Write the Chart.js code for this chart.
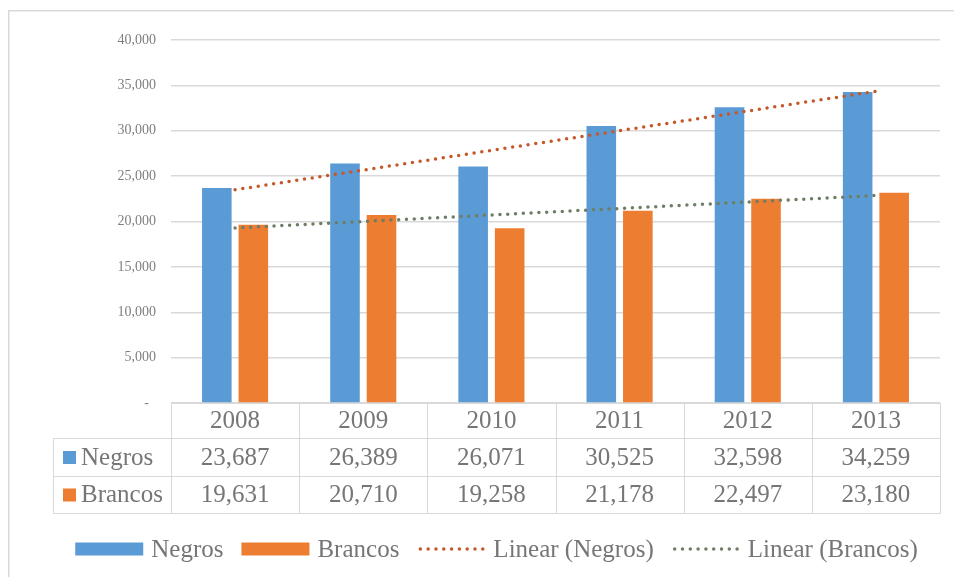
<!DOCTYPE html>
<html>
<head>
<meta charset="utf-8">
<script src="https://cdn.jsdelivr.net/npm/chart.js@4"></script>
<style>
  html, body { margin: 0; padding: 0; background: #ffffff; }
  #wrap { position: relative; width: 954px; height: 577px; }
</style>
</head>
<body>
<div id="wrap"><canvas id="c" width="954" height="577"></canvas></div>
<script>
// ---- data ----
const categories = ['2008', '2009', '2010', '2011', '2012', '2013'];
const negros = [23687, 26389, 26071, 30525, 32598, 34259];
const brancos = [19631, 20710, 19258, 21178, 22497, 23180];
const seriesNames = ['Negros', 'Brancos'];
const trendNames = ['Linear (Negros)', 'Linear (Brancos)'];
const yMin = 0, yMax = 40000, yStep = 5000;

// least-squares linear trend of a series (as Excel's "Linear" trendline)
function linearTrend(values) {
  const n = values.length;
  const xs = values.map((_, i) => i + 1);
  const mx = xs.reduce((a, b) => a + b, 0) / n;
  const my = values.reduce((a, b) => a + b, 0) / n;
  let sxy = 0, sxx = 0;
  for (let i = 0; i < n; i++) { sxy += (xs[i] - mx) * (values[i] - my); sxx += (xs[i] - mx) ** 2; }
  const slope = sxy / sxx, icpt = my - slope * mx;
  return xs.map(x => icpt + slope * x);
}

const FONT = '"Liberation Serif", "Times New Roman", serif';
const fmt = v => v.toLocaleString('en-US');
const BLUE = '#5b9bd5', ORANGE = '#ed7d31', RED = '#c4582a', GREEN = '#6e7d63';
const GRID = '#d9d9d9';

const tablePlugin = {
  id: 'tableAndLegend',
  beforeDraw(chart) {
    const ctx = chart.ctx;
    ctx.save();
    ctx.strokeStyle = GRID;
    ctx.lineWidth = 1.5;
    ctx.beginPath();
    ctx.moveTo(8.75, 1000); ctx.lineTo(8.75, 10.75); ctx.lineTo(2000, 10.75);
    ctx.stroke();
    ctx.restore();
  },
  afterDraw(chart) {
    const ctx = chart.ctx;
    const a = chart.chartArea;
    const xs = chart.scales.x;
    const n = categories.length;
    const colW = (a.right - a.left) / n;
    const tableLeft = 53;
    const r0 = a.bottom, r1 = r0 + 35, r2 = r1 + 38, r3 = r2 + 37;

    ctx.save();
    ctx.strokeStyle = GRID;
    ctx.lineWidth = 1;
    ctx.beginPath();
    const hl = (x1, x2, y) => { ctx.moveTo(x1, Math.round(y) + 0.5); ctx.lineTo(x2, Math.round(y) + 0.5); };
    const vl = (x, y1, y2) => { ctx.moveTo(Math.round(x) + 0.5, y1); ctx.lineTo(Math.round(x) + 0.5, y2); };
    hl(a.left, a.right + 1, r0);
    hl(tableLeft, a.right + 1, r1);
    hl(tableLeft, a.right + 1, r2);
    hl(tableLeft, a.right + 1, r3);
    vl(tableLeft, r1, r3 + 1);
    for (let i = 0; i <= n; i++) vl(a.left + i * colW, r0, r3 + 1);
    ctx.stroke();

    ctx.fillStyle = '#767676';
    ctx.font = '25px ' + FONT;
    ctx.textBaseline = 'middle';
    ctx.textAlign = 'center';
    const rows = [negros, brancos];
    categories.forEach((c, i) => {
      const cx = xs.getPixelForValue(i);
      ctx.fillText(c, cx, (r0 + r1) / 2 + 1);
      ctx.fillText(fmt(rows[0][i]), cx, (r1 + r2) / 2 + 1);
      ctx.fillText(fmt(rows[1][i]), cx, (r2 + r3) / 2 + 1);
    });
    // row headers with keys
    ctx.textAlign = 'left';
    const keyColors = [BLUE, ORANGE];
    const rowMid = [(r1 + r2) / 2, (r2 + r3) / 2];
    seriesNames.forEach((s, k) => {
      ctx.fillStyle = keyColors[k];
      ctx.fillRect(63, rowMid[k] - 6, 13, 13);
      ctx.fillStyle = '#767676';
      ctx.fillText(s, 81, rowMid[k] + 1);
    });

    // legend
    const ds = chart.data.datasets;
    const items = [ds[0], ds[1], ds[2], ds[3]];
    const sampleW = 68, gapT = 8, gapI = 18;
    let total = 0;
    const widths = items.map(d => ctx.measureText(d.label).width);
    widths.forEach(w => total += sampleW + gapT + w);
    total += gapI * (items.length - 1);
    const center = (tableLeft + a.right) / 2;
    let x = center - total / 2;
    const ly = 549;
    items.forEach((d, i) => {
      if (d.type === 'line') {
        ctx.save();
        ctx.strokeStyle = d.borderColor;
        ctx.lineWidth = 3.5;
        ctx.lineCap = 'round';
        ctx.setLineDash([0, 7.8]);
        ctx.beginPath();
        ctx.moveTo(x + 3, ly); ctx.lineTo(x + sampleW - 1, ly);
        ctx.stroke();
        ctx.restore();
      } else {
        ctx.fillStyle = d.backgroundColor;
        ctx.fillRect(x, ly - 6.5, sampleW, 13);
      }
      x += sampleW + gapT;
      ctx.fillStyle = '#767676';
      ctx.fillText(d.label, x, ly + 1);
      x += widths[i] + gapI;
    });
    ctx.restore();
  }
};

new Chart(document.getElementById('c'), {
  data: {
    labels: categories,
    datasets: [
      { type: 'bar', label: seriesNames[0], data: negros, backgroundColor: BLUE, order: 2,
        categoryPercentage: 0.57, barPercentage: 0.81 },
      { type: 'bar', label: seriesNames[1], data: brancos, backgroundColor: ORANGE, order: 2,
        categoryPercentage: 0.57, barPercentage: 0.81 },
      { type: 'line', label: trendNames[0], data: linearTrend(negros), borderColor: RED, order: 1,
        borderWidth: 3.5, borderDash: [0, 7.8], borderCapStyle: 'round', pointRadius: 0, fill: false, tension: 0 },
      { type: 'line', label: trendNames[1], data: linearTrend(brancos), borderColor: GREEN, order: 1,
        borderWidth: 3.5, borderDash: [0, 7.8], borderCapStyle: 'round', pointRadius: 0, fill: false, tension: 0 }
    ]
  },
  options: {
    responsive: false,
    animation: false,
    events: [],
    layout: { padding: { left: 0, right: 14, top: 40, bottom: 174 } },
    plugins: { legend: { display: false }, tooltip: { enabled: false } },
    scales: {
      x: { display: false, offset: true, grid: { offset: true } },
      y: {
        min: yMin, max: yMax,
        border: { display: false },
        grid: { color: GRID, lineWidth: 1.5, drawTicks: false },
        afterFit(scale) { scale.width = 171; },
        ticks: {
          stepSize: yStep,
          padding: 15,
          color: '#7f7f7f',
          font: { family: FONT, size: 14 },
          callback: v => v === 0 ? '-  ' : fmt(v)
        }
      }
    }
  },
  plugins: [tablePlugin]
});
</script>
</body>
</html>
